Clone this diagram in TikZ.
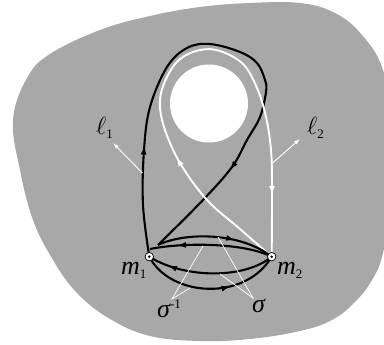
\documentclass[tikz,border=0pt]{standalone}
\usepackage{fontspec}
\setmainfont{Liberation Serif}
\usetikzlibrary{arrows.meta,decorations.markings}
\definecolor{blobgray}{RGB}{168,168,168}
\tikzset{
  blk/.style={line width=2.1pt, black},
  wht/.style={line width=1.9pt, white},
  thinw/.style={white, line width=0.9pt},
  sigline/.style={white, line width=0.7pt},
  midarrow/.style={postaction={decorate}, decoration={markings,
     mark=at position #1 with {\arrow{Latex[length=9pt,width=6pt]}}}},
  midarrows/.style 2 args={postaction={decorate}, decoration={markings,
     mark=at position #1 with {\arrow{Latex[length=9pt,width=6pt]}},
     mark=at position #2 with {\arrow{Latex[length=9pt,width=6pt]}}}},
  vert/.style={circle, fill=white, draw=black, line width=0.7pt, minimum size=8.5pt, inner sep=0pt,
     path picture={\fill[black] (path picture bounding box.center) circle (1.4pt);}},
  lab/.style={inner sep=0pt, anchor=base west, font=\fontsize{26}{26}\selectfont\itshape},
  ell/.style={inner sep=0pt, anchor=base west, font=\fontsize{23}{23}\selectfont},
}
\newcommand{\subsc}[1]{\raisebox{-4pt}{\fontsize{13}{13}\selectfont\upshape #1}}
\begin{document}
\begin{tikzpicture}[x=1pt,y=-1pt]
\useasboundingbox (0,0) rectangle (384,345);
\clip (0,0) rectangle (384,345);
% blob
\fill[blobgray] plot[smooth cycle, tension=0.65] coordinates {
 (13,120) (27,78) (50,54) (100,30) (150,16) (200,7) (250,3) (300,3) (335,13) (362,35) (383,70)
 (393,130) (394,190) (383,253) (372,280) (355,302) (332,320) (300,331) (250,339) (200,341)
 (150,336) (110,319) (77,293) (53,260) (33,220) (20,170)};
% hole
\fill[white] (209,103.5) circle (39);
% key points
\coordinate (m1) at (149.3,256.7);
\coordinate (m2) at (271.7,256.7);
\coordinate (P) at (158,245);
\coordinate (Q) at (150,249);
\coordinate (l1s) at (142.5,173);
\coordinate (l1e) at (113,143);
\coordinate (l2s) at (272.5,163);
\coordinate (l2e) at (300,139);
% black loop
\draw[blk, midarrows={0.215}{0.8}] plot[smooth, tension=0.6] coordinates {
 (m1) (143,205) (144,150) (150,107) (167,67) (187,48) (210,44) (240,52) (257,63) (265,80)
 (266,92) (260,117) (247,140) (232,167) (203,200) (P)};
% white loop
\draw[wht, midarrows={0.27}{0.88}] plot[smooth, tension=0.6] coordinates {
 (m2) (240,229) (207,200) (180,163) (164,127) (160,100) (167,77) (180,59) (200,50) (220,51)
 (243,64) (257,88) (266,117) (271,150) (272,187) (m2)};
% arcs
\draw[blk, midarrow=0.66] (P) .. controls (185,232) and (240,232) .. (m2);
\draw[blk, midarrow=0.78] (m2) .. controls (245,243) and (185,242) .. (Q);
\draw[blk, midarrow=0.84] (m2) .. controls (245,279) and (185,279) .. (m1);
\draw[blk, midarrow=0.64] (m1) .. controls (170,297) and (245,302) .. (m2);
% l arrows
\draw[thinw, -{Latex[length=6pt,width=4pt]}] (l1s) -- (l1e);
\draw[thinw, -{Latex[length=6pt,width=4pt]}] (l2s) -- (l2e);
% sigma lines
\coordinate (S1) at (172,299);
\coordinate (S2) at (253,298);
\coordinate (a2) at (203,246);
\coordinate (a4) at (190,288);
\coordinate (a1) at (218,237);
\coordinate (a3) at (220,274);
\draw[sigline] (a2) -- (S1) -- (a4);
\draw[sigline] (a1) -- (S2) -- (a3);
% vertices
\node[vert] (M1) at (m1) {};
\node[vert] (M2) at (m2) {};
% labels
\node[lab] (m1l) at (121,275) {m\subsc{1}};
\node[lab] (m2l) at (277,275) {m\subsc{2}};
\node[lab] (sinv) at (157,318) {σ\raisebox{9pt}{\fontsize{13}{13}\selectfont\upshape -1}};
\node[lab] (sig) at (252,313) {σ};
\node[ell] (l1) at (96,135) {$\ell$\subsc{1}};
\node[ell] (l2) at (307,135) {$\ell$\subsc{2}};
\end{tikzpicture}
\end{document}
